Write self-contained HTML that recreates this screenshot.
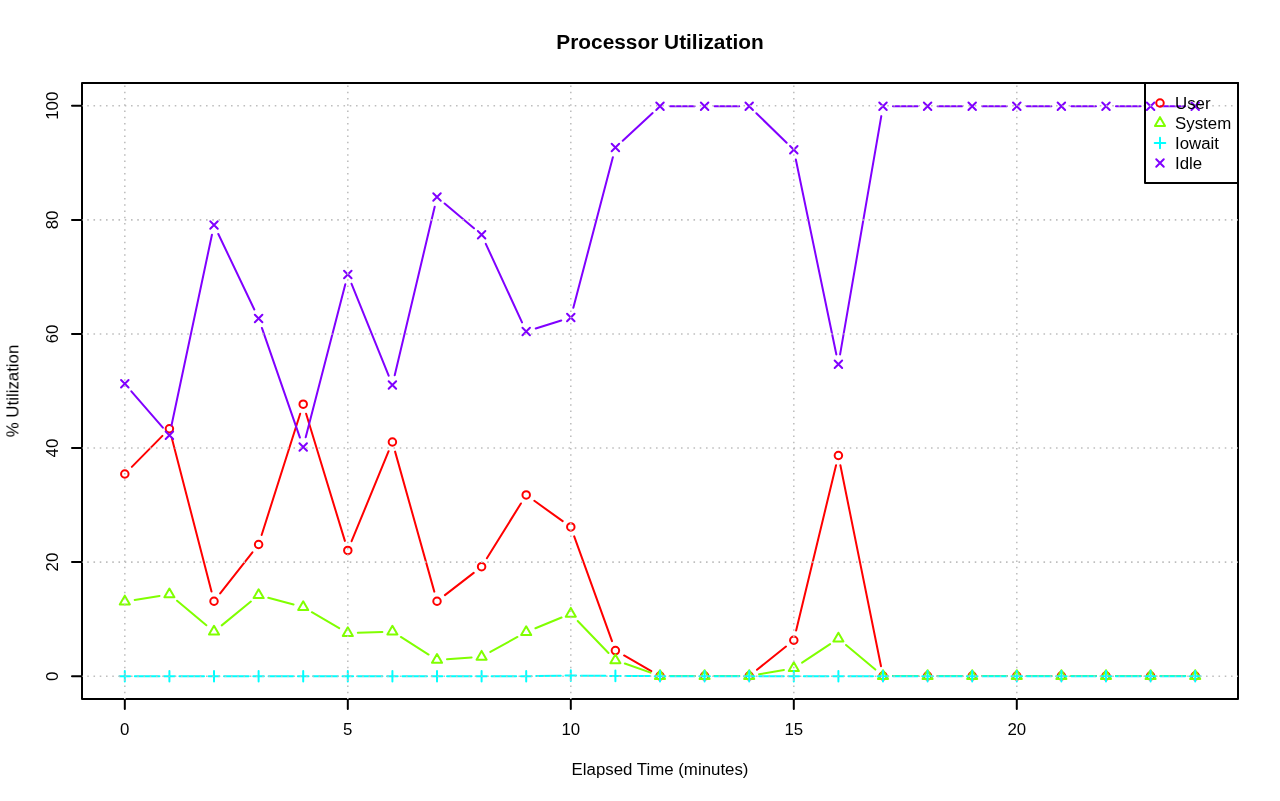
<!DOCTYPE html>
<html><head><meta charset="utf-8"><title>Processor Utilization</title>
<style>html,body{margin:0;padding:0;background:#fff;overflow:hidden}body{width:1280px;height:801px;font-family:"Liberation Sans",sans-serif}</style></head>
<body>
<svg width="1280" height="801" viewBox="0 0 1280 801" style="display:block">
<rect width="1280" height="801" fill="#fff"/>
<rect x="82" y="83" width="1156" height="616" fill="none" stroke="#000" stroke-width="2.0" stroke-linejoin="round"/>
<path d="M124.81 699v10M347.81 699v10M570.8 699v10M793.8 699v10M1016.79 699v10M82 676.19h-10M82 562.11h-10M82 448.04h-10M82 333.96h-10M82 219.89h-10M82 105.81h-10" stroke="#000" fill="none" stroke-width="2.0" stroke-linecap="round"/>
<g id="series">
<path d="M131.84 466.87L162.39 435.88M171.92 438.44L211.51 591.56M220.19 593.38L252.43 552.35M261.64 534.96L300.18 413.76M306.13 413.8L344.89 540.91M351.61 541.23L388.61 451.24M395.1 451.62L434.31 591.61M444.92 595.12L473.7 572.85M486.88 558.24L520.92 503.47M534.33 500.81L562.68 521.15M574.2 536.38L612.01 641.11M624.08 655.48L651.32 671.05M670 676.01L694.6 676.01M714.6 676.01L739.2 676.01M757 669.76L785.99 646.51M796.14 630.53L836.05 465.23M840.38 465.31L881.01 666.21M892.99 676.01L917.59 676.01M937.59 676.01L962.19 676.01M982.19 676.01L1006.79 676.01M1026.79 676.01L1051.39 676.01M1071.39 676.01L1095.99 676.01M1115.99 676.01L1140.59 676.01M1160.59 676.01L1185.19 676.01" stroke="#FF0000" fill="none" stroke-width="2.0" stroke-linecap="round"/>
<circle cx="124.81" cy="473.99" r="3.75" stroke="#FF0000" fill="none" stroke-width="2.0"/><circle cx="169.41" cy="428.76" r="3.75" stroke="#FF0000" fill="none" stroke-width="2.0"/><circle cx="214.01" cy="601.24" r="3.75" stroke="#FF0000" fill="none" stroke-width="2.0"/><circle cx="258.61" cy="544.49" r="3.75" stroke="#FF0000" fill="none" stroke-width="2.0"/><circle cx="303.21" cy="404.23" r="3.75" stroke="#FF0000" fill="none" stroke-width="2.0"/><circle cx="347.81" cy="550.48" r="3.75" stroke="#FF0000" fill="none" stroke-width="2.0"/><circle cx="392.41" cy="441.99" r="3.75" stroke="#FF0000" fill="none" stroke-width="2.0"/><circle cx="437.01" cy="601.24" r="3.75" stroke="#FF0000" fill="none" stroke-width="2.0"/><circle cx="481.6" cy="566.73" r="3.75" stroke="#FF0000" fill="none" stroke-width="2.0"/><circle cx="526.2" cy="494.98" r="3.75" stroke="#FF0000" fill="none" stroke-width="2.0"/><circle cx="570.8" cy="526.98" r="3.75" stroke="#FF0000" fill="none" stroke-width="2.0"/><circle cx="615.4" cy="650.52" r="3.75" stroke="#FF0000" fill="none" stroke-width="2.0"/><circle cx="660" cy="676.01" r="3.75" stroke="#FF0000" fill="none" stroke-width="2.0"/><circle cx="704.6" cy="676.01" r="3.75" stroke="#FF0000" fill="none" stroke-width="2.0"/><circle cx="749.2" cy="676.01" r="3.75" stroke="#FF0000" fill="none" stroke-width="2.0"/><circle cx="793.8" cy="640.25" r="3.75" stroke="#FF0000" fill="none" stroke-width="2.0"/><circle cx="838.4" cy="455.51" r="3.75" stroke="#FF0000" fill="none" stroke-width="2.0"/><circle cx="882.99" cy="676.01" r="3.75" stroke="#FF0000" fill="none" stroke-width="2.0"/><circle cx="927.59" cy="676.01" r="3.75" stroke="#FF0000" fill="none" stroke-width="2.0"/><circle cx="972.19" cy="676.01" r="3.75" stroke="#FF0000" fill="none" stroke-width="2.0"/><circle cx="1016.79" cy="676.01" r="3.75" stroke="#FF0000" fill="none" stroke-width="2.0"/><circle cx="1061.39" cy="676.01" r="3.75" stroke="#FF0000" fill="none" stroke-width="2.0"/><circle cx="1105.99" cy="676.01" r="3.75" stroke="#FF0000" fill="none" stroke-width="2.0"/><circle cx="1150.59" cy="676.01" r="3.75" stroke="#FF0000" fill="none" stroke-width="2.0"/><circle cx="1195.19" cy="676.01" r="3.75" stroke="#FF0000" fill="none" stroke-width="2.0"/>
<path d="M134.69 599.89L159.54 595.92M177.08 600.76L206.35 625.27M221.75 625.36L250.87 601.53M268.27 597.79L293.55 604.58M311.85 612.21L339.17 628.14M357.8 632.82L382.41 631.94M400.85 636.95L428.57 654.57M446.98 659.22L471.63 657.45M490.36 651.9L517.45 636.93M535.45 628.29L561.56 617.54M577.73 620.95L608.48 653M624.83 663.55L650.57 672.67M670 676.01L694.6 676.01M714.6 676.01L739.2 676.01M759.05 674.29L783.95 669.93M802.12 662.66L830.07 644.08M846.05 644.97L875.34 669.58M892.99 676.01L917.59 676.01M937.59 676.01L962.19 676.01M982.19 676.01L1006.79 676.01M1026.79 676.01L1051.39 676.01M1071.39 676.01L1095.99 676.01M1115.99 676.01L1140.59 676.01M1160.59 676.01L1185.19 676.01" stroke="#80FF00" fill="none" stroke-width="2.0" stroke-linecap="round"/>
<path d="M124.81 595.63L129.87 604.38L119.76 604.38Z" stroke="#80FF00" fill="none" stroke-width="2.0" stroke-linejoin="round"/><path d="M169.41 588.51L174.46 597.25L164.36 597.25Z" stroke="#80FF00" fill="none" stroke-width="2.0" stroke-linejoin="round"/><path d="M214.01 625.86L219.06 634.61L208.96 634.61Z" stroke="#80FF00" fill="none" stroke-width="2.0" stroke-linejoin="round"/><path d="M258.61 589.36L263.66 598.11L253.56 598.11Z" stroke="#80FF00" fill="none" stroke-width="2.0" stroke-linejoin="round"/><path d="M303.21 601.34L308.26 610.09L298.16 610.09Z" stroke="#80FF00" fill="none" stroke-width="2.0" stroke-linejoin="round"/><path d="M347.81 627.35L352.86 636.1L342.76 636.1Z" stroke="#80FF00" fill="none" stroke-width="2.0" stroke-linejoin="round"/><path d="M392.41 625.75L397.46 634.5L387.36 634.5Z" stroke="#80FF00" fill="none" stroke-width="2.0" stroke-linejoin="round"/><path d="M437.01 654.1L442.06 662.85L431.96 662.85Z" stroke="#80FF00" fill="none" stroke-width="2.0" stroke-linejoin="round"/><path d="M481.6 650.9L486.66 659.65L476.55 659.65Z" stroke="#80FF00" fill="none" stroke-width="2.0" stroke-linejoin="round"/><path d="M526.2 626.26L531.25 635.01L521.15 635.01Z" stroke="#80FF00" fill="none" stroke-width="2.0" stroke-linejoin="round"/><path d="M570.8 607.9L575.85 616.65L565.75 616.65Z" stroke="#80FF00" fill="none" stroke-width="2.0" stroke-linejoin="round"/><path d="M615.4 654.38L620.45 663.13L610.35 663.13Z" stroke="#80FF00" fill="none" stroke-width="2.0" stroke-linejoin="round"/><path d="M660 670.18L665.05 678.93L654.95 678.93Z" stroke="#80FF00" fill="none" stroke-width="2.0" stroke-linejoin="round"/><path d="M704.6 670.18L709.65 678.93L699.55 678.93Z" stroke="#80FF00" fill="none" stroke-width="2.0" stroke-linejoin="round"/><path d="M749.2 670.18L754.25 678.93L744.15 678.93Z" stroke="#80FF00" fill="none" stroke-width="2.0" stroke-linejoin="round"/><path d="M793.8 662.37L798.85 671.12L788.75 671.12Z" stroke="#80FF00" fill="none" stroke-width="2.0" stroke-linejoin="round"/><path d="M838.4 632.71L843.45 641.46L833.34 641.46Z" stroke="#80FF00" fill="none" stroke-width="2.0" stroke-linejoin="round"/><path d="M882.99 670.18L888.04 678.93L877.94 678.93Z" stroke="#80FF00" fill="none" stroke-width="2.0" stroke-linejoin="round"/><path d="M927.59 670.18L932.64 678.93L922.54 678.93Z" stroke="#80FF00" fill="none" stroke-width="2.0" stroke-linejoin="round"/><path d="M972.19 670.18L977.24 678.93L967.14 678.93Z" stroke="#80FF00" fill="none" stroke-width="2.0" stroke-linejoin="round"/><path d="M1016.79 670.18L1021.84 678.93L1011.74 678.93Z" stroke="#80FF00" fill="none" stroke-width="2.0" stroke-linejoin="round"/><path d="M1061.39 670.18L1066.44 678.93L1056.34 678.93Z" stroke="#80FF00" fill="none" stroke-width="2.0" stroke-linejoin="round"/><path d="M1105.99 670.18L1111.04 678.93L1100.94 678.93Z" stroke="#80FF00" fill="none" stroke-width="2.0" stroke-linejoin="round"/><path d="M1150.59 670.18L1155.64 678.93L1145.54 678.93Z" stroke="#80FF00" fill="none" stroke-width="2.0" stroke-linejoin="round"/><path d="M1195.19 670.18L1200.24 678.93L1190.13 678.93Z" stroke="#80FF00" fill="none" stroke-width="2.0" stroke-linejoin="round"/>
<path d="M134.81 676.19L159.41 676.19M179.41 676.19L204.01 676.19M224.01 676.19L248.61 676.19M268.61 676.19L293.21 676.19M313.21 676.19L337.81 676.19M357.81 676.19L382.41 676.19M402.41 676.19L427.01 676.19M447.01 676.19L471.6 676.19M491.6 676.19L516.2 676.19M536.2 676.06L560.8 675.74M580.8 675.68L605.4 675.84M625.4 675.96L650 676.12M670 676.19L694.6 676.19M714.6 676.19L739.2 676.19M759.2 676.19L783.8 676.19M803.8 676.19L828.4 676.19M848.4 676.19L872.99 676.19M892.99 676.19L917.59 676.19M937.59 676.19L962.19 676.19M982.19 676.19L1006.79 676.19M1026.79 676.19L1051.39 676.19M1071.39 676.19L1095.99 676.19M1115.99 676.19L1140.59 676.19M1160.59 676.19L1185.19 676.19" stroke="#00FFFF" fill="none" stroke-width="2.0" stroke-linecap="round"/>
<path d="M119.51 676.19H130.12M124.81 670.88V681.49" stroke="#00FFFF" fill="none" stroke-width="2.0" stroke-linecap="round"/><path d="M164.11 676.19H174.72M169.41 670.88V681.49" stroke="#00FFFF" fill="none" stroke-width="2.0" stroke-linecap="round"/><path d="M208.71 676.19H219.32M214.01 670.88V681.49" stroke="#00FFFF" fill="none" stroke-width="2.0" stroke-linecap="round"/><path d="M253.31 676.19H263.91M258.61 670.88V681.49" stroke="#00FFFF" fill="none" stroke-width="2.0" stroke-linecap="round"/><path d="M297.91 676.19H308.51M303.21 670.88V681.49" stroke="#00FFFF" fill="none" stroke-width="2.0" stroke-linecap="round"/><path d="M342.51 676.19H353.11M347.81 670.88V681.49" stroke="#00FFFF" fill="none" stroke-width="2.0" stroke-linecap="round"/><path d="M387.1 676.19H397.71M392.41 670.88V681.49" stroke="#00FFFF" fill="none" stroke-width="2.0" stroke-linecap="round"/><path d="M431.7 676.19H442.31M437.01 670.88V681.49" stroke="#00FFFF" fill="none" stroke-width="2.0" stroke-linecap="round"/><path d="M476.3 676.19H486.91M481.6 670.88V681.49" stroke="#00FFFF" fill="none" stroke-width="2.0" stroke-linecap="round"/><path d="M520.9 676.19H531.51M526.2 670.88V681.49" stroke="#00FFFF" fill="none" stroke-width="2.0" stroke-linecap="round"/><path d="M565.5 675.61H576.11M570.8 670.31V680.92" stroke="#00FFFF" fill="none" stroke-width="2.0" stroke-linecap="round"/><path d="M610.1 675.9H620.7M615.4 670.6V681.2" stroke="#00FFFF" fill="none" stroke-width="2.0" stroke-linecap="round"/><path d="M654.7 676.19H665.3M660 670.88V681.49" stroke="#00FFFF" fill="none" stroke-width="2.0" stroke-linecap="round"/><path d="M699.3 676.19H709.9M704.6 670.88V681.49" stroke="#00FFFF" fill="none" stroke-width="2.0" stroke-linecap="round"/><path d="M743.89 676.19H754.5M749.2 670.88V681.49" stroke="#00FFFF" fill="none" stroke-width="2.0" stroke-linecap="round"/><path d="M788.49 676.19H799.1M793.8 670.88V681.49" stroke="#00FFFF" fill="none" stroke-width="2.0" stroke-linecap="round"/><path d="M833.09 676.19H843.7M838.4 670.88V681.49" stroke="#00FFFF" fill="none" stroke-width="2.0" stroke-linecap="round"/><path d="M877.69 676.19H888.3M882.99 670.88V681.49" stroke="#00FFFF" fill="none" stroke-width="2.0" stroke-linecap="round"/><path d="M922.29 676.19H932.9M927.59 670.88V681.49" stroke="#00FFFF" fill="none" stroke-width="2.0" stroke-linecap="round"/><path d="M966.89 676.19H977.49M972.19 670.88V681.49" stroke="#00FFFF" fill="none" stroke-width="2.0" stroke-linecap="round"/><path d="M1011.49 676.19H1022.09M1016.79 670.88V681.49" stroke="#00FFFF" fill="none" stroke-width="2.0" stroke-linecap="round"/><path d="M1056.09 676.19H1066.69M1061.39 670.88V681.49" stroke="#00FFFF" fill="none" stroke-width="2.0" stroke-linecap="round"/><path d="M1100.68 676.19H1111.29M1105.99 670.88V681.49" stroke="#00FFFF" fill="none" stroke-width="2.0" stroke-linecap="round"/><path d="M1145.28 676.19H1155.89M1150.59 670.88V681.49" stroke="#00FFFF" fill="none" stroke-width="2.0" stroke-linecap="round"/><path d="M1189.88 676.19H1200.49M1195.19 670.88V681.49" stroke="#00FFFF" fill="none" stroke-width="2.0" stroke-linecap="round"/>
<path d="M131.36 391.32L162.87 427.7M171.49 425.48L211.94 234.75M218.32 233.99L254.31 309.48M261.89 327.95L299.93 437.56M305.71 437.33L345.31 284.21M351.55 283.8L388.66 375.74M394.72 375.28L434.7 206.75M444.64 203.47L473.97 228.26M485.79 243.8L522.02 322.43M535.74 328.51L561.26 320.48M573.34 307.81L612.86 157.18M622.74 140.72L652.66 113.06M670 106.27L694.6 106.27M714.6 106.27L739.2 106.27M756.36 113.25L786.63 142.75M795.83 159.52L836.36 354.46M840.1 354.4L881.29 116.12M892.99 106.27L917.59 106.27M937.59 106.27L962.19 106.27M982.19 106.27L1006.79 106.27M1026.79 106.27L1051.39 106.27M1071.39 106.27L1095.99 106.27M1115.99 106.27L1140.59 106.27M1160.59 106.27L1185.19 106.27" stroke="#8000FF" fill="none" stroke-width="2.0" stroke-linecap="round"/>
<path d="M121.06 380.01L128.56 387.51M121.06 387.51L128.56 380.01" stroke="#8000FF" fill="none" stroke-width="2.0" stroke-linecap="round"/><path d="M165.66 431.51L173.16 439.01M165.66 439.01L173.16 431.51" stroke="#8000FF" fill="none" stroke-width="2.0" stroke-linecap="round"/><path d="M210.26 221.22L217.76 228.72M210.26 228.72L217.76 221.22" stroke="#8000FF" fill="none" stroke-width="2.0" stroke-linecap="round"/><path d="M254.86 314.76L262.36 322.26M254.86 322.26L262.36 314.76" stroke="#8000FF" fill="none" stroke-width="2.0" stroke-linecap="round"/><path d="M299.46 443.26L306.96 450.76M299.46 450.76L306.96 443.26" stroke="#8000FF" fill="none" stroke-width="2.0" stroke-linecap="round"/><path d="M344.06 270.78L351.56 278.28M344.06 278.28L351.56 270.78" stroke="#8000FF" fill="none" stroke-width="2.0" stroke-linecap="round"/><path d="M388.66 381.26L396.16 388.76M388.66 388.76L396.16 381.26" stroke="#8000FF" fill="none" stroke-width="2.0" stroke-linecap="round"/><path d="M433.26 193.27L440.76 200.77M433.26 200.77L440.76 193.27" stroke="#8000FF" fill="none" stroke-width="2.0" stroke-linecap="round"/><path d="M477.85 230.97L485.35 238.47M477.85 238.47L485.35 230.97" stroke="#8000FF" fill="none" stroke-width="2.0" stroke-linecap="round"/><path d="M522.45 327.76L529.95 335.26M522.45 335.26L529.95 327.76" stroke="#8000FF" fill="none" stroke-width="2.0" stroke-linecap="round"/><path d="M567.05 313.73L574.55 321.23M567.05 321.23L574.55 313.73" stroke="#8000FF" fill="none" stroke-width="2.0" stroke-linecap="round"/><path d="M611.65 143.76L619.15 151.26M611.65 151.26L619.15 143.76" stroke="#8000FF" fill="none" stroke-width="2.0" stroke-linecap="round"/><path d="M656.25 102.52L663.75 110.02M656.25 110.02L663.75 102.52" stroke="#8000FF" fill="none" stroke-width="2.0" stroke-linecap="round"/><path d="M700.85 102.52L708.35 110.02M700.85 110.02L708.35 102.52" stroke="#8000FF" fill="none" stroke-width="2.0" stroke-linecap="round"/><path d="M745.45 102.52L752.95 110.02M745.45 110.02L752.95 102.52" stroke="#8000FF" fill="none" stroke-width="2.0" stroke-linecap="round"/><path d="M790.05 145.98L797.55 153.48M790.05 153.48L797.55 145.98" stroke="#8000FF" fill="none" stroke-width="2.0" stroke-linecap="round"/><path d="M834.65 360.5L842.15 368M834.65 368L842.15 360.5" stroke="#8000FF" fill="none" stroke-width="2.0" stroke-linecap="round"/><path d="M879.24 102.52L886.74 110.02M879.24 110.02L886.74 102.52" stroke="#8000FF" fill="none" stroke-width="2.0" stroke-linecap="round"/><path d="M923.84 102.52L931.34 110.02M923.84 110.02L931.34 102.52" stroke="#8000FF" fill="none" stroke-width="2.0" stroke-linecap="round"/><path d="M968.44 102.52L975.94 110.02M968.44 110.02L975.94 102.52" stroke="#8000FF" fill="none" stroke-width="2.0" stroke-linecap="round"/><path d="M1013.04 102.52L1020.54 110.02M1013.04 110.02L1020.54 102.52" stroke="#8000FF" fill="none" stroke-width="2.0" stroke-linecap="round"/><path d="M1057.64 102.52L1065.14 110.02M1057.64 110.02L1065.14 102.52" stroke="#8000FF" fill="none" stroke-width="2.0" stroke-linecap="round"/><path d="M1102.24 102.52L1109.74 110.02M1102.24 110.02L1109.74 102.52" stroke="#8000FF" fill="none" stroke-width="2.0" stroke-linecap="round"/><path d="M1146.84 102.52L1154.34 110.02M1146.84 110.02L1154.34 102.52" stroke="#8000FF" fill="none" stroke-width="2.0" stroke-linecap="round"/><path d="M1191.44 102.52L1198.94 110.02M1191.44 110.02L1198.94 102.52" stroke="#8000FF" fill="none" stroke-width="2.0" stroke-linecap="round"/>
</g>
<clipPath id="pc"><rect x="82" y="83" width="1156" height="616"/></clipPath>
<path id="grid" clip-path="url(#pc)" d="M124.81 699.6V83M347.81 699.6V83M570.8 699.6V83M793.8 699.6V83M1016.79 699.6V83M81 676.19H1238M81 562.11H1238M81 448.04H1238M81 333.96H1238M81 219.89H1238M81 105.81H1238" stroke="#BEBEBE" fill="none" stroke-width="1.5625" stroke-dasharray="1.5625 4.6875"/>
<g font-family="Liberation Sans, sans-serif" font-size="16.85" fill="#000" opacity="0.999">
<text x="124.81" y="735" text-anchor="middle">0</text>
<text x="347.81" y="735" text-anchor="middle">5</text>
<text x="570.8" y="735" text-anchor="middle">10</text>
<text x="793.8" y="735" text-anchor="middle">15</text>
<text x="1016.79" y="735" text-anchor="middle">20</text>
<text transform="translate(58.4 676.19) rotate(-90)" text-anchor="middle">0</text>
<text transform="translate(58.4 562.11) rotate(-90)" text-anchor="middle">20</text>
<text transform="translate(58.4 448.04) rotate(-90)" text-anchor="middle">40</text>
<text transform="translate(58.4 333.96) rotate(-90)" text-anchor="middle">60</text>
<text transform="translate(58.4 219.89) rotate(-90)" text-anchor="middle">80</text>
<text transform="translate(58.4 105.81) rotate(-90)" text-anchor="middle">100</text>
<text x="660" y="774.8" text-anchor="middle">Elapsed Time (minutes)</text>
<text transform="translate(18.4 391) rotate(-90)" text-anchor="middle">% Utilization</text>
<text x="660" y="49.4" text-anchor="middle" font-weight="bold" font-size="20.85">Processor Utilization</text>
<rect x="1145" y="83" width="93" height="100" fill="none" stroke="#000" stroke-width="2.0" stroke-linejoin="round"/>
<circle cx="1160" cy="103" r="3.75" stroke="#FF0000" fill="none" stroke-width="2.0"/>
<text x="1175" y="108.7">User</text>
<path d="M1160 117.17L1165.05 125.92L1154.95 125.92Z" stroke="#80FF00" fill="none" stroke-width="2.0" stroke-linejoin="round"/>
<text x="1175" y="128.7">System</text>
<path d="M1154.7 143H1165.3M1160 137.7V148.3" stroke="#00FFFF" fill="none" stroke-width="2.0" stroke-linecap="round"/>
<text x="1175" y="148.7">Iowait</text>
<path d="M1156.25 159.25L1163.75 166.75M1156.25 166.75L1163.75 159.25" stroke="#8000FF" fill="none" stroke-width="2.0" stroke-linecap="round"/>
<text x="1175" y="168.7">Idle</text>
</g>
</svg>
</body></html>
